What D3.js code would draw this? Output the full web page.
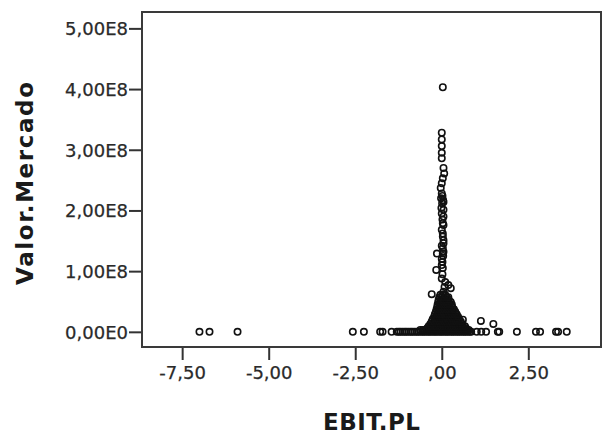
<!DOCTYPE html>
<html>
<head>
<meta charset="utf-8">
<script src="https://cdn.jsdelivr.net/npm/d3@7"></script>
<style>
  body { margin: 0; background: #fff; }
  .axis text { font-family: "DejaVu Sans", sans-serif; font-size: 18px; fill: #2a2a2a; stroke: #2a2a2a; stroke-width: 0.25; }
  .axis line { stroke: #333; stroke-width: 2; }
  .axis .domain { display: none; }
  .axis-title { font-family: "DejaVu Sans", sans-serif; font-weight: bold; font-size: 23px; fill: #1a1a1a; }
</style>
</head>
<body>
<svg id="chart"></svg>
<script>
// EBIT.PL (x) vs Valor.Mercado (y, in units of 1E8)
const xTicks = [-7.5, -5, -2.5, 0, 2.5];
const yTicks = [0, 1, 2, 3, 4, 5];

// isolated cases along the zero line and just above it
const outliers = [
  [-7.00, 0], [-6.71, 0], [-5.90, 0], [-2.57, 0], [-2.25, 0], [-1.78, 0], [-1.71, 0], [-1.45, 0],
  [1.01, 0], [1.14, 0], [1.28, 0], [1.62, 0], [1.66, 0], [2.17, 0], [2.72, 0], [2.84, 0],
  [3.30, 0], [3.36, 0], [3.61, 0],
  [0.61, 0.20], [1.13, 0.18], [1.49, 0.13]
];

// the tall column of cases near EBIT.PL = 0
const spike = [
  [0.03, 4.03], [0.00, 3.28], [0.00, 3.17], [0.00, 3.06], [0.00, 2.95], [0.00, 2.86],
  [0.05, 2.70], [0.07, 2.61], [0.03, 2.53], [0.00, 2.45], [-0.03, 2.37], [0.00, 2.28],
  [0.02, 2.24], [-0.02, 2.20], [0.04, 2.17], [0.05, 2.14], [0.01, 2.12], [-0.01, 2.04],
  [0.05, 2.01], [0.00, 1.95], [0.05, 1.90], [0.02, 1.85], [0.03, 1.79], [0.05, 1.76],
  [0.00, 1.68], [0.03, 1.62], [0.03, 1.57], [0.05, 1.51], [0.05, 1.46], [0.00, 1.42],
  [0.03, 1.38], [0.05, 1.32], [-0.14, 1.29], [0.03, 1.29], [0.04, 1.25], [0.00, 1.20],
  [0.02, 1.15], [0.00, 1.10], [0.03, 1.05], [-0.16, 1.02], [0.02, 0.95], [0.00, 0.88],
  [0.10, 0.82], [0.19, 0.77], [0.08, 0.74], [0.26, 0.72], [0.05, 0.66], [-0.29, 0.62]
];

// dense base of the cloud, one row per Valor.Mercado level
const clusterRows = [
  [0.00, [-1.30, -1.24, -1.19, -1.13, -1.07, -1.02, -0.96, -0.90, -0.85, -0.79, -0.73, -0.68, -0.62,
          -0.56, -0.51, -0.45, -0.39, -0.34, -0.28, -0.22, -0.17, -0.11, -0.05, 0.00, 0.06, 0.12,
          0.17, 0.23, 0.29, 0.34, 0.40, 0.46, 0.51, 0.57, 0.63, 0.68, 0.74, 0.80, 0.85]],
  [0.03, [-0.62, -0.55, -0.49, -0.42, -0.36, -0.30, -0.24, -0.18, -0.12, -0.06, 0.00, 0.06, 0.12,
          0.18, 0.24, 0.30, 0.36, 0.42, 0.49, 0.56, 0.64, 0.72, 0.78]],
  [0.06, [-0.42, -0.35, -0.28, -0.21, -0.14, -0.07, 0.00, 0.07, 0.14, 0.21, 0.28, 0.35, 0.42, 0.49, 0.56, 0.63, 0.70]],
  [0.09, [-0.38, -0.31, -0.24, -0.17, -0.10, -0.03, 0.04, 0.11, 0.18, 0.25, 0.32, 0.39, 0.46, 0.53, 0.60, 0.67]],
  [0.13, [-0.33, -0.26, -0.19, -0.12, -0.05, 0.02, 0.09, 0.16, 0.23, 0.30, 0.37, 0.44, 0.51, 0.58]],
  [0.17, [-0.29, -0.22, -0.15, -0.08, -0.01, 0.06, 0.13, 0.20, 0.27, 0.34, 0.41, 0.48, 0.55]],
  [0.21, [-0.26, -0.19, -0.12, -0.05, 0.02, 0.09, 0.16, 0.23, 0.30, 0.37, 0.44, 0.50]],
  [0.25, [-0.22, -0.15, -0.08, -0.01, 0.06, 0.13, 0.20, 0.27, 0.34, 0.41, 0.47]],
  [0.29, [-0.20, -0.13, -0.06, 0.01, 0.08, 0.15, 0.22, 0.29, 0.36, 0.43]],
  [0.33, [-0.17, -0.10, -0.03, 0.04, 0.11, 0.18, 0.25, 0.32, 0.39]],
  [0.37, [-0.15, -0.08, -0.01, 0.06, 0.13, 0.20, 0.27, 0.35]],
  [0.41, [-0.13, -0.06, 0.01, 0.08, 0.15, 0.22, 0.30]],
  [0.45, [-0.12, -0.05, 0.02, 0.09, 0.16, 0.23, 0.29]],
  [0.49, [-0.10, -0.03, 0.04, 0.11, 0.18, 0.26]],
  [0.53, [-0.09, -0.02, 0.05, 0.12, 0.20]],
  [0.57, [-0.07, 0.00, 0.07, 0.14, 0.19]],
  [0.61, [-0.04, 0.03, 0.10]]
];

class ScatterPlot {
  constructor(_config, _data) {
    this.config = {
      parentElement: _config.parentElement,
      containerWidth: _config.containerWidth || 603,
      containerHeight: _config.containerHeight || 438,
      margin: _config.margin || {top: 12, right: 2, bottom: 91, left: 142}
    };
    this.data = _data;
    this.initVis();
  }

  initVis() {
    let vis = this;
    vis.width = vis.config.containerWidth - vis.config.margin.left - vis.config.margin.right;
    vis.height = vis.config.containerHeight - vis.config.margin.top - vis.config.margin.bottom;

    vis.xScale = d3.scaleLinear().domain([-8.66, 4.60]).range([0, vis.width]);
    vis.yScale = d3.scaleLinear().domain([-0.25, 5.27]).range([vis.height, 0]);

    const fmtX = d => (d < 0 ? '-' : '') + Math.abs(d).toFixed(2).replace('.', ',').replace(/^0,/, ',');
    const fmtY = d => d === 0 ? '0,00E0' : d.toFixed(2).replace('.', ',') + 'E8';

    vis.xAxis = d3.axisBottom(vis.xScale).tickValues(xTicks).tickSize(13).tickPadding(6).tickFormat(fmtX);
    vis.yAxis = d3.axisLeft(vis.yScale).tickValues(yTicks).tickSize(13).tickPadding(1).tickFormat(fmtY);

    vis.svg = d3.select(vis.config.parentElement)
      .attr('width', vis.config.containerWidth)
      .attr('height', vis.config.containerHeight);

    vis.chart = vis.svg.append('g')
      .attr('transform', `translate(${vis.config.margin.left},${vis.config.margin.top})`);

    vis.xAxisG = vis.chart.append('g')
      .attr('class', 'axis x-axis')
      .attr('transform', `translate(0,${vis.height})`);
    vis.yAxisG = vis.chart.append('g').attr('class', 'axis y-axis');

    // axis titles
    vis.svg.append('text')
      .attr('class', 'axis-title')
      .attr('x', vis.config.margin.left + vis.width / 2)
      .attr('y', 430)
      .attr('text-anchor', 'middle')
      .attr('textLength', 97)
      .attr('lengthAdjust', 'spacing')
      .text('EBIT.PL');

    vis.svg.append('text')
      .attr('class', 'axis-title')
      .attr('transform', 'translate(33,183.5) rotate(-90)')
      .attr('text-anchor', 'middle')
      .attr('textLength', 203)
      .attr('lengthAdjust', 'spacing')
      .text('Valor.Mercado');

    vis.renderVis();
  }

  renderVis() {
    let vis = this;

    vis.xAxisG.call(vis.xAxis);
    vis.yAxisG.call(vis.yAxis);
    vis.yAxisG.selectAll('text').attr('dy', '0.36em');

    vis.chart.selectAll('.dot')
      .data(vis.data)
      .join('circle')
      .attr('class', 'dot')
      .attr('cx', d => vis.xScale(d[0]))
      .attr('cy', d => vis.yScale(d[1]))
      .attr('r', 3.2)
      .attr('fill', 'none')
      .attr('stroke', '#111')
      .attr('stroke-width', 1.6);

    // plot frame
    vis.chart.append('rect')
      .attr('width', vis.width)
      .attr('height', vis.height)
      .attr('fill', 'none')
      .attr('stroke', '#3a3a3a')
      .attr('stroke-width', 2);
  }
}

const points = outliers.concat(spike);
clusterRows.forEach(row => row[1].forEach(x => points.push([x, row[0]])));

new ScatterPlot({parentElement: '#chart'}, points);
</script>
</body>
</html>
